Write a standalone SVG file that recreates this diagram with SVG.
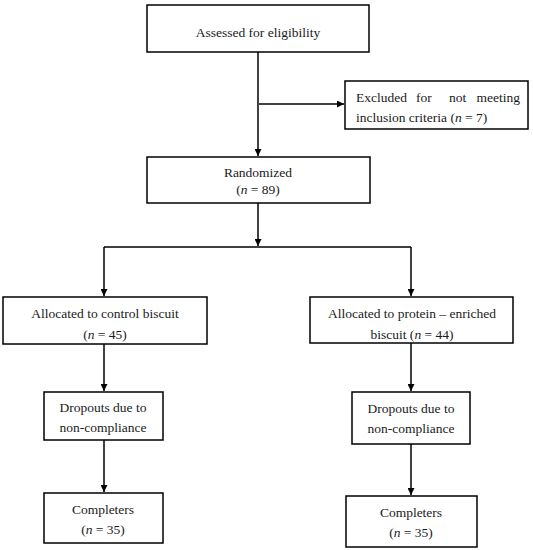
<svg xmlns="http://www.w3.org/2000/svg" width="533" height="550" viewBox="0 0 533 550">
<style>
.box{fill:#fff;stroke:#000;stroke-width:1.5}
.t{font-family:"Liberation Serif",serif;font-size:13.5px;fill:#1a1a1a;text-anchor:middle}
.l{fill:none;stroke:#000;stroke-width:1.5}
</style>
<defs>
<marker id="ah" viewBox="0 0 10 10" refX="10" refY="5" markerWidth="7" markerHeight="7" markerUnits="userSpaceOnUse" orient="auto">
<path d="M0,0 L10,5 L0,10 z" fill="#000"/>
</marker>
</defs>
<rect width="533" height="550" fill="#fff"/>
<g id="connectors">
<line class="l" x1="258" y1="52" x2="258" y2="156" marker-end="url(#ah)"/>
<line class="l" x1="259" y1="104" x2="344" y2="104" marker-end="url(#ah)"/>
<line class="l" x1="258" y1="203" x2="258" y2="246" marker-end="url(#ah)"/>
<polyline class="l" points="104,247 411,247"/>
<line class="l" x1="104" y1="247" x2="104" y2="296" marker-end="url(#ah)"/>
<line class="l" x1="411" y1="247" x2="411" y2="296" marker-end="url(#ah)"/>
<line class="l" x1="104" y1="344" x2="104" y2="391" marker-end="url(#ah)"/>
<line class="l" x1="104" y1="440" x2="104" y2="492" marker-end="url(#ah)"/>
<line class="l" x1="411" y1="343" x2="411" y2="391" marker-end="url(#ah)"/>
<line class="l" x1="411" y1="444" x2="411" y2="495" marker-end="url(#ah)"/>
</g>
<g id="assessed">
<rect class="box" x="147" y="5" width="222" height="47"/>
<text class="t" x="258" y="37">Assessed for eligibility</text>
</g>
<g id="excluded">
<rect class="box" x="345" y="81" width="183" height="48"/>
<text class="t" style="text-anchor:start" y="102"><tspan x="356">Excluded</tspan><tspan x="416">for</tspan><tspan x="449">not</tspan><tspan x="520" style="text-anchor:end">meeting</tspan></text>
<text class="t" style="text-anchor:start" x="356" y="122">inclusion criteria (<tspan font-style="italic">n</tspan> = 7)</text>
</g>
<g id="randomized">
<rect class="box" x="147" y="157" width="223" height="46"/>
<text class="t" x="258" y="177">Randomized</text>
<text class="t" x="258" y="194">(<tspan font-style="italic">n</tspan> = 89)</text>
</g>
<g id="alloc-control">
<rect class="box" x="3" y="297" width="204" height="47"/>
<text class="t" x="105" y="318">Allocated to control biscuit</text>
<text class="t" x="105" y="339">(<tspan font-style="italic">n</tspan> = 45)</text>
</g>
<g id="alloc-protein">
<rect class="box" x="310" y="297" width="203" height="46"/>
<text class="t" x="412" y="318">Allocated to protein – enriched</text>
<text class="t" x="412" y="339">biscuit (<tspan font-style="italic">n</tspan> = 44)</text>
</g>
<g id="dropouts-control">
<rect class="box" x="44" y="392" width="119" height="48"/>
<text class="t" x="103" y="412">Dropouts due to</text>
<text class="t" x="103" y="432">non-compliance</text>
</g>
<g id="completers-control">
<rect class="box" x="44" y="493" width="119" height="50"/>
<text class="t" x="103" y="514">Completers</text>
<text class="t" x="103" y="534">(<tspan font-style="italic">n</tspan> = 35)</text>
</g>
<g id="dropouts-protein">
<rect class="box" x="352" y="392" width="118" height="52"/>
<text class="t" x="411" y="413">Dropouts due to</text>
<text class="t" x="411" y="433">non-compliance</text>
</g>
<g id="completers-protein">
<rect class="box" x="346" y="496" width="131" height="51"/>
<text class="t" x="411" y="517">Completers</text>
<text class="t" x="411" y="537">(<tspan font-style="italic">n</tspan> = 35)</text>
</g>
</svg>
